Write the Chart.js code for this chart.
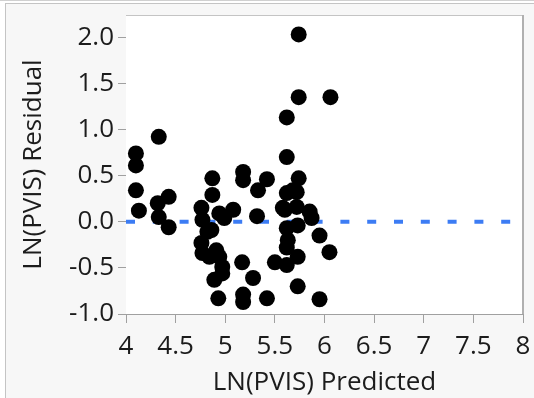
<!DOCTYPE html>
<html>
<head>
<meta charset="utf-8">
<script src="https://cdn.jsdelivr.net/npm/chart.js@4/dist/chart.umd.min.js"></script>
<style>
  html, body { margin: 0; padding: 0; background: #ffffff; }
  #frame {
    position: absolute; left: 5px; top: 3px; width: 529px; height: 395px;
    background: #f7f7f7; border-left: 1px solid #c4c4c4; border-top: 1px solid #c4c4c4;
  }
  #topline { position: absolute; left: 0; top: 0; width: 534px; height: 1px; background: #d0d0d0; }
  #wrap { position: absolute; left: 0; top: 0; width: 534px; height: 398px; }
</style>
</head>
<body>
<div id="topline"></div>
<div id="frame"></div>
<div id="wrap"><canvas id="chart" width="534" height="398"></canvas></div>
<script>
// LN(PVIS) predicted vs residual
const predicted = [
  4.10, 4.10, 4.10, 4.13, 4.33, 4.32, 4.43, 4.33, 4.43,
  4.87, 4.87, 4.76, 4.77, 4.76, 4.77, 4.89, 4.93, 4.86, 4.94, 4.97,
  4.94, 4.91, 4.97, 4.84, 4.82,
  5.18, 5.18, 5.42, 5.33, 5.08, 4.99, 5.32, 5.17, 5.28, 5.18, 5.18, 5.42,
  5.62, 5.74, 5.62, 5.72, 5.60, 5.72, 5.85, 5.87, 5.62, 5.73, 5.95, 5.63,
  5.62, 6.05, 5.50, 5.62, 5.73, 5.73, 5.95, 5.74, 5.74, 6.06, 5.62,
  5.58, 5.68
];
const residual = [
  0.74, 0.61, 0.34, 0.12, 0.92, 0.20, 0.27, 0.05, -0.06,
  0.47, 0.29, 0.15, 0.02, -0.23, -0.34, -0.63, -0.83, -0.09, -0.38, -0.49,
  0.09, -0.31, -0.56, -0.38, -0.11,
  0.54, 0.45, 0.46, 0.34, 0.13, 0.04, 0.06, -0.44, -0.61, -0.79, -0.87, -0.83,
  0.70, 0.47, 0.31, 0.32, 0.13, 0.16, 0.11, 0.04, -0.07, -0.04, -0.15, -0.20,
  -0.28, -0.33, -0.44, -0.47, -0.38, -0.70, -0.84, 2.03, 1.35, 1.35, 1.13,
  0.15, 0.34
];
const xTicks = [4, 4.5, 5, 5.5, 6, 6.5, 7, 7.5, 8];
const yTicks = [-1, -0.75, -0.5, -0.25, 0, 0.25, 0.5, 0.75, 1, 1.25, 1.5, 1.75, 2];
const refLineX = [4, 8];
const refLineY = [0, 0];

const points = [];
for (let i = 0; i < predicted.length; i++) {
  points.push({ x: predicted[i], y: residual[i] });
}
const refLine = [];
for (let i = 0; i < refLineX.length; i++) {
  refLine.push({ x: refLineX[i], y: refLineY[i] });
}

const plotFrame = {
  id: 'plotFrame',
  beforeDatasetsDraw(chart) {
    const a = chart.chartArea;
    const ctx = chart.ctx;
    ctx.save();
    ctx.fillStyle = '#ffffff';
    ctx.fillRect(a.left, a.top, a.right - a.left, a.bottom - a.top);
    ctx.strokeStyle = '#c4c4c4';
    ctx.lineWidth = 1;
    ctx.beginPath();
    ctx.moveTo(a.left, a.top + 0.5);
    ctx.lineTo(a.right, a.top + 0.5);
    ctx.stroke();
    ctx.strokeStyle = '#b0b0b0';
    ctx.lineWidth = 2;
    ctx.beginPath();
    ctx.moveTo(a.right, a.top);
    ctx.lineTo(a.right, a.bottom);
    ctx.stroke();
    ctx.restore();
  }
};

const textColor = '#1c1c1c';
const fontFamily = "'Open Sans', 'Noto Sans', sans-serif";

new Chart(document.getElementById('chart').getContext('2d'), {
  type: 'scatter',
  data: {
    datasets: [{
      data: points,
      backgroundColor: '#000000',
      borderWidth: 0,
      pointRadius: 8,
      pointHoverRadius: 8
    }, {
      type: 'line',
      data: refLine,
      borderColor: '#3c7cf4',
      borderWidth: 4,
      borderDash: [9, 17.8],
      pointRadius: 0,
      fill: false
    }]
  },
  options: {
    responsive: false,
    animation: false,
    events: [],
    layout: { padding: { left: 0, right: 11, top: 15, bottom: 0 } },
    plugins: { legend: { display: false }, tooltip: { enabled: false } },
    scales: {
      x: {
        type: 'linear',
        min: 4,
        max: 8,
        afterBuildTicks: (scale) => { scale.ticks = xTicks.map(v => ({ value: v })); },
        afterFit: (scale) => {
          scale.height = 84;
          scale.paddingLeft = 0;
          scale.paddingRight = 0;
        },
        border: { display: true, color: '#a0a0a0', width: 1 },
        grid: { drawOnChartArea: false, drawTicks: true, tickLength: 9, tickColor: '#a0a0a0' },
        ticks: {
          color: textColor,
          font: { family: fontFamily, size: 26 },
          padding: 8,
          maxRotation: 0,
          callback: (v) => String(v)
        },
        title: {
          display: true,
          text: 'LN(PVIS) Predicted',
          color: textColor,
          font: { family: fontFamily, size: 26 },
          padding: { top: 0, bottom: 0 }
        }
      },
      y: {
        type: 'linear',
        min: -1,
        max: 2.24,
        afterBuildTicks: (scale) => { scale.ticks = yTicks.map(v => ({ value: v })); },
        afterFit: (scale) => {
          scale.width = 126;
          scale.paddingTop = 0;
          scale.paddingBottom = 0;
        },
        border: { display: true, color: '#a0a0a0', width: 1 },
        grid: { drawOnChartArea: false, drawTicks: true, tickLength: 8, tickColor: '#a0a0a0' },
        ticks: {
          color: textColor,
          font: { family: fontFamily, size: 26 },
          padding: 4,
          callback: (v) => (Math.abs(v * 2 - Math.round(v * 2)) < 1e-9 ? v.toFixed(1) : '')
        },
        title: {
          display: true,
          text: 'LN(PVIS) Residual',
          color: textColor,
          font: { family: fontFamily, size: 26 },
          padding: { top: 18, bottom: 0 }
        }
      }
    }
  },
  plugins: [plotFrame]
});
</script>
</body>
</html>
